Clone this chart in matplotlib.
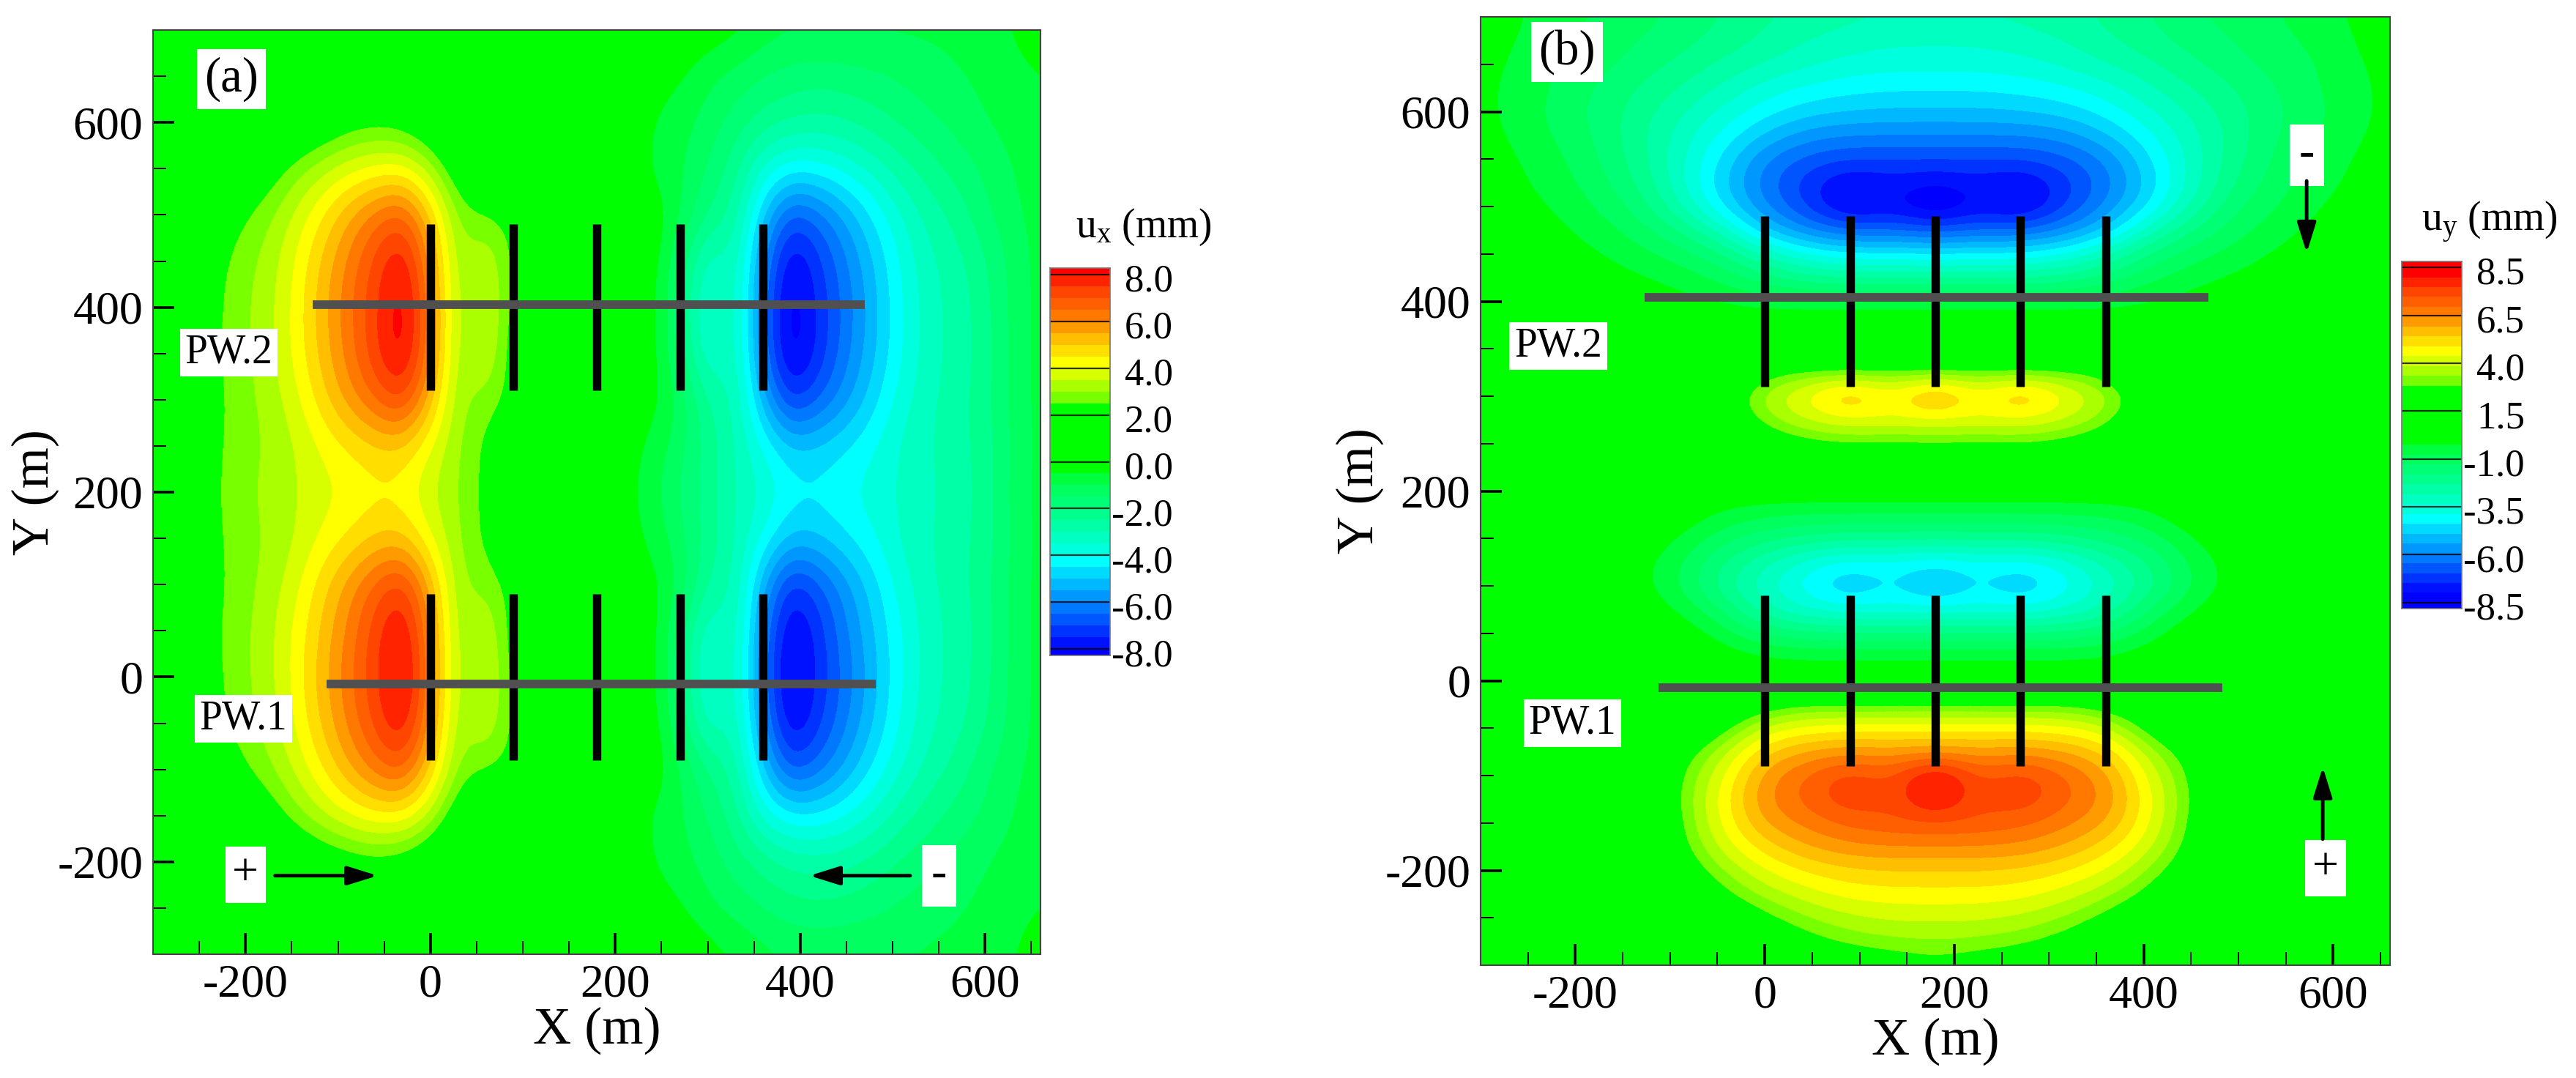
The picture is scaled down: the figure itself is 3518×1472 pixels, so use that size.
import matplotlib
matplotlib.use("Agg")
import matplotlib.pyplot as plt
import numpy as np
from matplotlib.colors import BoundaryNorm, ListedColormap

plt.rcParams["font.family"] = ["Liberation Serif", "DejaVu Serif"]
plt.rcParams["mathtext.fontset"] = "custom"
plt.rcParams["mathtext.rm"] = "Liberation Serif"
plt.rcParams["axes.unicode_minus"] = False

FIG_W, FIG_H = 3518, 1472

# field values, rows run from top (y=700) to bottom (y=-300)
ux_x = [-300, -270, -240, -210, -180, -150, -120, -90, -60, -30, 0, 30, 60, 90, 120, 150, 180,
        210, 240, 270, 300, 330, 360, 390, 420, 450, 480, 510, 540, 570, 600, 630, 660]
ux_y = [700, 650, 600, 550, 500, 450, 400, 350, 300, 250, 200, 150, 100, 50, 0, -50, -100, -150, -200, -250, -300]
ux_grid = [
    [0, 0, 0, 0, 0, .1, .1, .2, .2, .2, .1, 0, 0, 0, 0, 0, 0, 0, 0, 0, -.1, -.3, -.7, -.9, -.9, -.9, -.9, -.9, -.9, -.9, -.9, -.4, -.2],
    [0, 0, .1, .2, .3, .5, .7, .9, 1.0, 1.0, .7, .4, .2, .1, 0, 0, 0, 0, -.2, -.4, -.9, -1.2, -1.5, -1.7, -1.8, -1.7, -1.6, -1.4, -1.2, -1.0, -.9, -.7, -.5],
    [0, .1, .3, .5, .8, 1.2, 1.6, 2.1, 2.3, 2.1, 1.5, .7, .3, .1, 0, 0, 0, 0, -.5, -.8, -1.2, -1.7, -2.2, -2.5, -2.6, -2.5, -2.2, -1.9, -1.6, -1.3, -1.0, -.8, -.6],
    [.1, .3, .7, 1.5, 1.9, 2.7, 3.3, 3.8, 4.1, 4.2, 3.3, 1.8, 1.1, .6, .2, 0, 0, 0, -.6, -.9, -1.5, -2.3, -3.6, -4.3, -4.2, -3.8, -3.3, -2.7, -2.2, -1.8, -1.4, -1.0, -.7],
    [.3, .8, 1.6, 2.3, 2.8, 3.5, 4.4, 5.4, 6.3, 6.9, 5.0, 2.8, 2.6, 2.3, 1.1, .7, .4, -.3, 0, -.9, -2.0, -2.6, -5.0, -6.9, -6.3, -5.4, -4.4, -3.5, -2.8, -2.3, -1.6, -1.1, -.8],
    [.6, 1.1, 2.1, 2.7, 3.1, 3.9, 5.0, 6.1, 7.2, 8.3, 5.9, 2.9, 3.6, 2.4, 1.2, .8, .5, -.8, 0, -1.5, -3.5, -2.9, -5.9, -8.3, -7.2, -6.1, -5.0, -3.9, -3.1, -2.7, -2.1, -1.3, -.8],
    [.7, 1.2, 2.2, 2.8, 3.2, 4.0, 5.2, 6.3, 7.4, 8.6, 6.3, 2.9, 3.9, 2.2, 1.2, .8, .5, -.8, 0, -1.9, -3.8, -2.9, -6.3, -8.6, -7.4, -6.3, -5.2, -4.0, -3.2, -2.8, -2.2, -1.3, -.8],
    [.7, 1.2, 2.3, 2.8, 3.2, 4.0, 5.1, 6.2, 7.4, 8.6, 6.2, 2.9, 3.8, 2.0, 1.1, .7, .4, -.8, 0, -1.7, -3.7, -2.9, -6.2, -8.6, -7.4, -6.2, -5.1, -4.0, -3.2, -2.8, -2.3, -1.3, -.8],
    [.7, 1.2, 2.2, 2.7, 3.1, 3.7, 4.7, 5.7, 6.6, 7.4, 5.3, 3.0, 2.9, 2.3, .9, .5, .2, -.3, -.2, -1.0, -2.6, -2.9, -5.3, -7.4, -6.6, -5.7, -4.7, -3.7, -3.1, -2.7, -2.2, -1.3, -.8],
    [.7, 1.3, 2.3, 2.7, 3.0, 3.4, 4.0, 4.5, 4.9, 5.0, 4.0, 3.0, 2.4, 1.3, .6, .3, .1, -.2, -.6, -1.3, -2.2, -3.0, -4.0, -5.0, -4.9, -4.5, -4.0, -3.4, -3.0, -2.7, -2.3, -1.4, -.8],
    [.7, 1.3, 2.3, 2.8, 3.1, 3.4, 3.8, 4.0, 4.3, 4.2, 3.5, 3.0, 2.4, 1.1, .5, .2, 0, -.3, -.8, -1.6, -2.2, -3.0, -3.5, -4.2, -4.3, -4.0, -3.8, -3.4, -3.1, -2.8, -2.3, -1.3, -.8],
    [.7, 1.3, 2.3, 2.7, 3.0, 3.4, 4.0, 4.5, 5.0, 5.1, 4.0, 3.0, 2.4, 1.3, .6, .3, .1, -.2, -.6, -1.3, -2.2, -3.0, -4.0, -5.1, -5.0, -4.5, -4.0, -3.4, -3.0, -2.7, -2.3, -1.4, -.8],
    [.7, 1.2, 2.2, 2.7, 3.1, 3.7, 4.7, 5.7, 6.7, 7.5, 5.4, 3.0, 2.9, 2.3, .9, .5, .2, -.3, -.2, -1.0, -2.6, -2.9, -5.4, -7.5, -6.7, -5.7, -4.7, -3.7, -3.1, -2.7, -2.2, -1.3, -.8],
    [.7, 1.2, 2.3, 2.8, 3.2, 4.0, 5.0, 6.1, 7.3, 8.4, 6.0, 2.9, 3.7, 2.1, 1.1, .7, .4, -.8, 0, -1.7, -3.6, -2.9, -6.0, -8.4, -7.3, -6.1, -5.0, -4.0, -3.2, -2.8, -2.3, -1.3, -.8],
    [.7, 1.2, 2.2, 2.8, 3.2, 4.0, 5.2, 6.3, 7.4, 8.6, 6.3, 2.9, 3.9, 2.2, 1.2, .8, .5, -.8, 0, -1.9, -3.8, -2.9, -6.3, -8.6, -7.4, -6.3, -5.2, -4.0, -3.2, -2.8, -2.2, -1.3, -.8],
    [.6, 1.1, 2.1, 2.7, 3.1, 3.9, 5.0, 6.1, 7.2, 8.3, 5.9, 2.9, 3.6, 2.4, 1.2, .8, .5, -.8, 0, -1.5, -3.5, -2.9, -5.9, -8.3, -7.2, -6.1, -5.0, -3.9, -3.1, -2.7, -2.1, -1.3, -.8],
    [.3, .8, 1.6, 2.3, 2.8, 3.5, 4.4, 5.4, 6.3, 6.9, 5.0, 2.8, 2.6, 2.3, 1.1, .7, .4, -.3, 0, -.9, -2.0, -2.6, -5.0, -6.9, -6.3, -5.4, -4.4, -3.5, -2.8, -2.3, -1.6, -1.1, -.8],
    [.1, .3, .7, 1.5, 1.9, 2.7, 3.4, 4.0, 4.4, 4.4, 3.4, 1.8, 1.1, .6, .2, 0, 0, 0, -.6, -.9, -1.5, -2.3, -3.7, -4.4, -4.4, -4.0, -3.4, -2.7, -2.2, -1.8, -1.4, -1.0, -.7],
    [0, .1, .3, .5, .9, 1.3, 1.7, 2.0, 2.2, 2.0, 1.5, .7, .3, .1, 0, 0, 0, 0, -.5, -.8, -1.2, -1.7, -2.2, -2.6, -2.7, -2.6, -2.3, -1.9, -1.6, -1.3, -1.0, -.8, -.6],
    [0, 0, .1, .2, .3, .5, .7, .9, 1.0, 1.0, .7, .4, .2, .1, 0, 0, 0, 0, -.2, -.4, -.9, -1.2, -1.5, -1.8, -1.9, -1.8, -1.6, -1.4, -1.2, -1.0, -.9, -.7, -.5],
    [0, 0, 0, 0, .1, .1, .2, .3, .3, .3, .2, .1, 0, 0, 0, 0, 0, 0, 0, 0, -.2, -.5, -.8, -1.0, -1.0, -1.0, -1.0, -1.0, -.9, -.9, -.9, -.5, -.2],
]

uy_x = [-315, -270, -225, -180, -135, -90, -45, 0, 45, 90, 135, 180, 225, 270, 315, 360, 405, 450, 495, 540, 585, 630, 675]
uy_y = [700, 675, 650, 625, 600, 575, 550, 525, 500, 475, 450, 425, 400, 375, 350, 325, 300, 275, 250, 225, 200,
        175, 150, 125, 100, 75, 50, 25, 0, -25, -50, -75, -100, -125, -150, -175, -200, -225, -250, -275, -300]
uy_grid = [
    [-.1, -.3, -.8, -1.0, -1.3, -1.6, -2.0, -2.4, -2.7, -2.9, -3.0, -3.0, -3.0, -2.9, -2.7, -2.4, -2.0, -1.6, -1.3, -1.0, -.8, -.3, -.1],
    [-.1, -.4, -.9, -1.1, -1.5, -1.8, -2.2, -2.6, -3.0, -3.2, -3.4, -3.4, -3.4, -3.2, -3.0, -2.6, -2.2, -1.8, -1.5, -1.1, -.9, -.4, -.1],
    [-.2, -.5, -1.0, -1.3, -1.7, -2.1, -2.6, -3.0, -3.4, -3.7, -3.8, -3.8, -3.8, -3.7, -3.4, -3.0, -2.6, -2.1, -1.7, -1.3, -1.0, -.5, -.2],
    [-.2, -.6, -1.0, -1.5, -2.0, -2.5, -3.1, -3.7, -4.1, -4.3, -4.4, -4.4, -4.4, -4.3, -4.1, -3.7, -3.1, -2.5, -2.0, -1.5, -1.0, -.6, -.2],
    [-.2, -.6, -1.1, -1.6, -2.2, -2.9, -3.6, -4.3, -4.8, -5.0, -5.1, -5.1, -5.1, -5.0, -4.8, -4.3, -3.6, -2.9, -2.2, -1.6, -1.1, -.6, -.2],
    [-.2, -.5, -1.0, -1.5, -2.3, -3.2, -4.1, -5.1, -5.8, -6.0, -6.0, -6.0, -6.0, -6.0, -5.8, -5.1, -4.1, -3.2, -2.3, -1.5, -1.0, -.5, -.2],
    [-.1, -.4, -.8, -1.4, -2.2, -3.3, -4.6, -6.0, -6.7, -7.0, -7.0, -7.0, -7.0, -7.0, -6.7, -6.0, -4.6, -3.3, -2.2, -1.4, -.8, -.4, -.1],
    [-.1, -.3, -.7, -1.2, -2.0, -3.3, -4.9, -6.3, -7.3, -8.2, -7.7, -8.1, -7.7, -8.2, -7.3, -6.3, -4.9, -3.3, -2.0, -1.2, -.7, -.3, -.1],
    [0, -.2, -.5, -1.0, -1.6, -2.9, -4.5, -6.0, -7.1, -8.4, -7.8, -8.9, -7.8, -8.4, -7.1, -6.0, -4.5, -2.9, -1.6, -1.0, -.5, -.2, 0],
    [0, -.1, -.3, -.7, -1.2, -2.0, -3.2, -5.0, -6.0, -6.6, -6.5, -6.8, -6.5, -6.6, -6.0, -5.0, -3.2, -2.0, -1.2, -.7, -.3, -.1, 0],
    [0, 0, -.2, -.4, -.8, -1.2, -1.9, -3.1, -4.0, -4.4, -4.4, -4.5, -4.4, -4.4, -4.0, -3.1, -1.9, -1.2, -.8, -.4, -.2, 0, 0],
    [0, 0, 0, -.2, -.4, -.7, -1.1, -1.8, -2.3, -2.5, -2.5, -2.5, -2.5, -2.5, -2.3, -1.8, -1.1, -.7, -.4, -.2, 0, 0, 0],
    [0, 0, 0, 0, -.1, -.3, -.5, -.7, -.7, -.7, -.7, -.7, -.7, -.7, -.7, -.7, -.5, -.3, -.1, 0, 0, 0, 0],
    [0, 0, 0, 0, 0, 0, 0, 0, 0, 0, 0, 0, 0, 0, 0, 0, 0, 0, 0, 0, 0, 0, 0],
    [0, 0, 0, 0, 0, 0, 0, .2, .3, .3, .3, .3, .3, .3, .3, .2, 0, 0, 0, 0, 0, 0, 0],
    [0, 0, 0, 0, 0, 0, .5, 2.3, 2.7, 2.8, 2.7, 2.8, 2.7, 2.8, 2.7, 2.3, .5, 0, 0, 0, 0, 0, 0],
    [0, 0, 0, 0, 0, 0, 1.8, 3.3, 4.2, 5.5, 4.2, 5.9, 4.2, 5.5, 4.2, 3.3, 1.8, 0, 0, 0, 0, 0, 0],
    [0, 0, 0, 0, 0, 0, 1.2, 2.9, 3.6, 4.0, 3.9, 4.0, 3.9, 4.0, 3.6, 2.9, 1.2, 0, 0, 0, 0, 0, 0],
    [0, 0, 0, 0, 0, 0, .5, 1.6, 2.3, 2.5, 2.4, 2.5, 2.4, 2.5, 2.3, 1.6, .5, 0, 0, 0, 0, 0, 0],
    [0, 0, 0, 0, 0, 0, .1, .4, .7, .9, .9, .9, .9, .9, .7, .4, .1, 0, 0, 0, 0, 0, 0],
    [0, 0, 0, 0, 0, 0, 0, 0, 0, 0, 0, 0, 0, 0, 0, 0, 0, 0, 0, 0, 0, 0, 0],
    [0, 0, 0, 0, 0, 0, -.6, -.9, -1.0, -1.0, -1.0, -1.0, -1.0, -1.0, -1.0, -.9, -.6, 0, 0, 0, 0, 0, 0],
    [0, 0, 0, 0, 0, -.5, -1.3, -1.8, -2.1, -2.3, -2.3, -2.3, -2.3, -2.3, -2.1, -1.8, -1.3, -.5, 0, 0, 0, 0, 0],
    [0, 0, 0, 0, -.2, -.9, -2.0, -2.9, -3.8, -4.3, -4.1, -4.5, -4.1, -4.3, -3.8, -2.9, -2.0, -.9, -.2, 0, 0, 0, 0],
    [0, 0, 0, 0, -.2, -1.0, -2.3, -3.4, -4.3, -5.2, -4.4, -5.5, -4.4, -5.2, -4.3, -3.4, -2.3, -1.0, -.2, 0, 0, 0, 0],
    [0, 0, 0, 0, 0, -.5, -1.5, -2.9, -3.6, -3.9, -3.8, -3.9, -3.8, -3.9, -3.6, -2.9, -1.5, -.5, 0, 0, 0, 0, 0],
    [0, 0, 0, 0, 0, 0, -.7, -1.6, -1.8, -1.9, -1.9, -1.9, -1.9, -1.9, -1.8, -1.6, -.7, 0, 0, 0, 0, 0, 0],
    [0, 0, 0, 0, 0, 0, -.1, -.4, -.5, -.5, -.5, -.5, -.5, -.5, -.5, -.4, -.1, 0, 0, 0, 0, 0, 0],
    [0, 0, 0, 0, 0, 0, 0, 0, 0, 0, 0, 0, 0, 0, 0, 0, 0, 0, 0, 0, 0, 0, 0],
    [0, 0, 0, 0, 0, 0, 1.0, 2.1, 2.5, 2.5, 2.5, 2.5, 2.5, 2.5, 2.5, 2.1, 1.3, 0, 0, 0, 0, 0, 0],
    [0, 0, 0, 0, 0, .8, 2.2, 3.7, 4.2, 4.3, 4.3, 4.3, 4.3, 4.3, 4.2, 3.7, 2.2, .8, 0, 0, 0, 0, 0],
    [0, 0, 0, 0, .2, 2.0, 3.3, 5.0, 5.6, 5.9, 5.7, 5.9, 5.7, 5.9, 5.6, 5.0, 3.3, 2.0, .2, 0, 0, 0, 0],
    [0, 0, 0, 0, .5, 2.4, 3.9, 5.8, 6.6, 7.4, 6.8, 8.7, 6.8, 7.4, 6.6, 5.8, 3.9, 2.4, .5, 0, 0, 0, 0],
    [0, 0, 0, 0, .6, 2.5, 4.2, 6.0, 6.7, 7.5, 7.0, 8.5, 7.0, 7.5, 6.7, 6.0, 4.2, 2.5, .6, 0, 0, 0, 0],
    [0, 0, 0, 0, .4, 2.4, 4.1, 5.6, 6.2, 6.7, 6.9, 7.0, 6.9, 6.7, 6.2, 5.6, 4.1, 2.4, .4, 0, 0, 0, 0],
    [0, 0, 0, 0, .2, 2.2, 3.7, 4.8, 5.5, 5.9, 6.0, 6.0, 6.0, 5.9, 5.5, 4.8, 3.7, 2.2, .2, 0, 0, 0, 0],
    [0, 0, 0, 0, 0, 1.7, 3.0, 4.0, 4.6, 4.9, 5.0, 5.0, 5.0, 4.9, 4.6, 4.0, 3.0, 1.7, 0, 0, 0, 0, 0],
    [0, 0, 0, 0, 0, .9, 2.3, 3.2, 3.8, 4.2, 4.3, 4.3, 4.3, 4.2, 3.8, 3.2, 2.3, .9, 0, 0, 0, 0, 0],
    [0, 0, 0, 0, 0, .4, 1.3, 2.3, 3.0, 3.4, 3.6, 3.6, 3.6, 3.4, 3.0, 2.3, 1.3, .4, 0, 0, 0, 0, 0],
    [0, 0, 0, 0, 0, .1, .6, 1.4, 2.2, 2.7, 2.9, 3.0, 2.9, 2.7, 2.2, 1.4, .6, .1, 0, 0, 0, 0, 0],
    [0, 0, 0, 0, 0, 0, .3, .8, 1.2, 1.6, 1.9, 2.2, 1.9, 1.6, 1.2, .8, .3, 0, 0, 0, 0, 0, 0],
]

wells_x = [0, 90, 180, 270, 360]
well_rows = [(-90, 90), (310, 490)]

bar_ticks_a = [8, 6, 4, 2, 0, -2, -4, -6, -8]
bar_labels_a = ["8.0", "6.0", "4.0", "2.0", "0.0", "-2.0", "-4.0", "-6.0", "-8.0"]
bar_ticks_b = [8.5, 6.07, 3.64, 1.21, -1.21, -3.64, -6.07, -8.5]
bar_labels_b = ["8.5", "6.5", "4.0", "1.5", "-1.0", "-3.5", "-6.0", "-8.5"]

levels = np.arange(-9, 9.5, 0.5)
mids = (levels[:-1] + levels[1:]) / 2
stop_v = [-9, -8, -6.25, -5, -4.25, -3.75, -2.25, -1.25, -0.75, -0.25, 2.25, 2.75, 3.25, 3.75, 4.25, 5.25, 6.25, 7.25, 8.25, 9]
stop_r = [0, 0, 0, 0, 0, 0, 0, 0, 0, 0, 0, 120, 170, 215, 255, 255, 255, 255, 255, 255]
stop_g = [0, 0, 120, 200, 255, 255, 255, 255, 255, 255, 255, 255, 255, 255, 255, 190, 120, 70, 0, 0]
stop_b = [255, 255, 255, 255, 255, 220, 140, 95, 60, 0, 0, 0, 0, 0, 0, 0, 0, 0, 0, 0]
band_colors = np.column_stack([np.interp(mids, stop_v, c) for c in (stop_r, stop_g, stop_b)]) / 255
cmap = ListedColormap(band_colors)
norm = BoundaryNorm(levels, cmap.N)


def px_axes(fig, left, top, right, bottom):
    return fig.add_axes([left / FIG_W, 1 - bottom / FIG_H, (right - left) / FIG_W, (bottom - top) / FIG_H])


def draw_field(ax, xs, ys, grid):
    dx = xs[1] - xs[0]
    dy = ys[0] - ys[1]
    extent = (xs[0] - dx / 2, xs[-1] + dx / 2, ys[-1] - dy / 2, ys[0] + dy / 2)
    ax.imshow(np.array(grid), extent=extent, origin="upper", aspect="auto", cmap=cmap, norm=norm,
              interpolation="bicubic", interpolation_stage="data", zorder=1)
    ax.set_xlim(-300, 660)
    ax.set_ylim(-300, 700)
    ax.set_xticks([-200, 0, 200, 400, 600])
    ax.set_xticks(np.arange(-250, 660, 50), minor=True)
    ax.set_yticks([-200, 0, 200, 400, 600])
    ax.set_yticks(np.arange(-250, 700, 50), minor=True)
    ax.tick_params(which="major", direction="in", length=21, width=2.6, labelsize=46, pad=10, top=False, right=False)
    ax.tick_params(which="minor", direction="in", length=13, width=1.4, top=False, right=False)
    for s in ax.spines.values():
        s.set_linewidth(1.5)
        s.set_color("#444444")
    ax.set_xlabel("X (m)", fontsize=52, labelpad=0)
    ax.set_ylabel("Y (m)", fontsize=52)
    ax.yaxis.set_label_coords(-0.106, 0.5)


def draw_wells(ax, pumps):
    for lo, hi in well_rows:
        ax.vlines(wells_x, lo, hi, colors="black", linewidth=8.2, zorder=3)
    for y, x0, x1 in pumps:
        ax.plot([x0, x1], [y, y], color="#505050", linewidth=8.5, solid_capstyle="butt", zorder=4)


def label(ax, x, y, s, size=40, pad=5):
    ax.text(x, y, s, fontsize=size, ha="center", va="center", zorder=5,
            bbox=dict(facecolor="white", edgecolor="none", pad=pad))


def arrow(ax, start, end):
    ax.annotate("", xy=end, xytext=start, zorder=5,
                arrowprops=dict(arrowstyle="-|>,head_length=0.9,head_width=0.28", color="black", lw=3.5,
                                shrinkA=0, shrinkB=0, mutation_scale=28))


def draw_bar(fig, box, vmax, ticks, tick_labels, title, title_xy):
    cax = px_axes(fig, *box)
    cax.pcolormesh([0, 1], levels, mids[:, None], cmap=cmap, norm=norm)
    cax.set_ylim(-vmax, vmax)
    cax.set_xlim(0, 1)
    cax.hlines(ticks, 0, 1, colors="black", linewidth=1.6, alpha=0.8)
    cax.set_xticks([])
    cax.set_yticks([])
    for s in cax.spines.values():
        s.set_linewidth(1.2)
        s.set_color("#777777")
    for v, t in zip(ticks, tick_labels):
        cax.annotate(t, (1, v), xycoords=("axes fraction", "data"), xytext=(62, -7),
                     textcoords="offset points", ha="right", va="center", fontsize=38)
    fig.text(title_xy[0] / FIG_W, 1 - title_xy[1] / FIG_H, title, fontsize=40, ha="center", va="center")


def main() -> None:
    fig = plt.figure(figsize=(FIG_W / 100, FIG_H / 100), dpi=100, facecolor="white")

    ax_a = px_axes(fig, 209, 41, 1421, 1303)
    draw_field(ax_a, ux_x, ux_y, ux_grid)
    draw_wells(ax_a, [(403, -127, 470), (-8, -112, 482)])
    label(ax_a, -215, 647, "(a)", 48, 7)
    label(ax_a, -218, 351, "PW.2")
    label(ax_a, -202, -45, "PW.1")
    label(ax_a, -200, -214, "+", 46, 7)
    label(ax_a, 550, -215, "-", 46, 9)
    arrow(ax_a, (-168, -215), (-57, -215))
    arrow(ax_a, (519, -215), (410, -215))

    ax_b = px_axes(fig, 2022, 23, 3264, 1318)
    draw_field(ax_b, uy_x, uy_y, uy_grid)
    draw_wells(ax_b, [(404, -127, 468), (-7, -112, 483)])
    label(ax_b, -209, 663, "(b)", 48, 7)
    label(ax_b, -218, 353, "PW.2")
    label(ax_b, -203, -45, "PW.1")
    label(ax_b, 572, 554, "-", 46, 9)
    label(ax_b, 592, -198, "+", 46, 7)
    arrow(ax_b, (572, 527), (572, 451))
    arrow(ax_b, (589, -167), (589, -91))

    draw_bar(fig, (1434, 366, 1516, 895), 8.27, bar_ticks_a, bar_labels_a,
             r"$\mathrm{u_x}$ (mm)", (1562, 310))
    draw_bar(fig, (3280, 357, 3362, 831), 8.8, bar_ticks_b, bar_labels_b,
             r"$\mathrm{u_y}$ (mm)", (3400, 303))

    fig.savefig("out.png", dpi=100)
    plt.close(fig)


if __name__ == "__main__":
    main()
